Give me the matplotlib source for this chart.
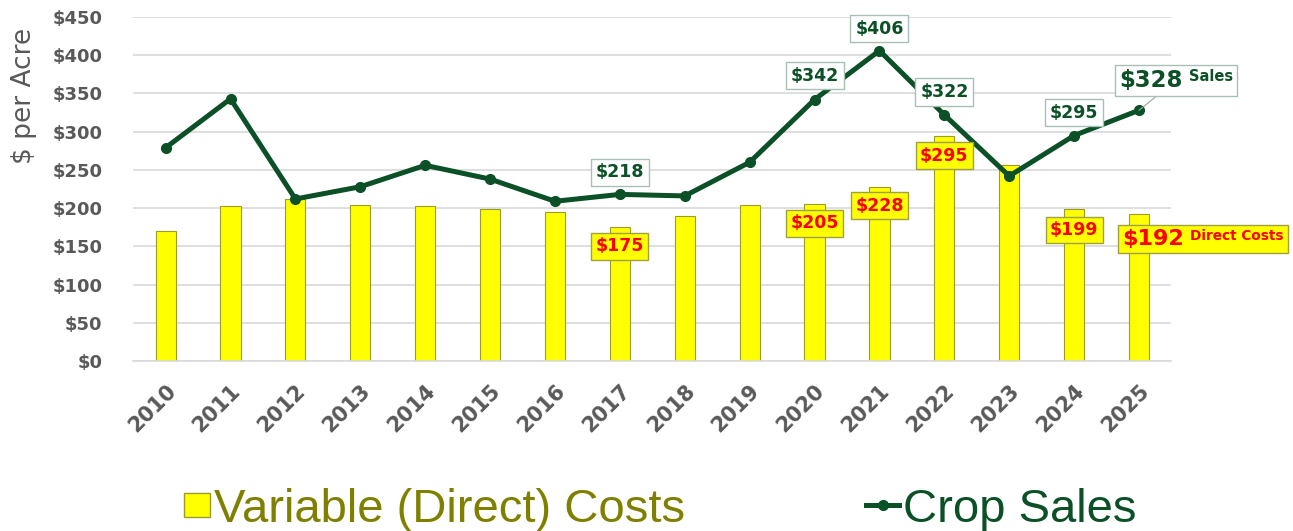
import matplotlib
matplotlib.use("Agg")
import matplotlib.pyplot as plt
from matplotlib.offsetbox import AnnotationBbox, HPacker, TextArea
from matplotlib.patches import Patch
from matplotlib.lines import Line2D

years = [str(y) for y in range(2010, 2026)]
direct_costs = [170, 203, 212, 204, 203, 199, 195, 175, 190, 204, 205, 228, 295, 257, 199, 192]
crop_sales = [279, 343, 212, 228, 256, 238, 209, 218, 216, 260, 342, 406, 322, 242, 295, 328]
yticks = list(range(0, 451, 50))

# labelled points: index -> pixel offset (dx, dy) from the point
sales_labels = {7: (0, 22), 10: (0, 24), 11: (0, 22), 12: (0, 23), 14: (0, 23)}
cost_labels = {7: (0, -19), 10: (0, -19), 11: (0, -19), 12: (0, -20), 14: (0, -21)}

GRAY = "#595959"
GREEN = "#0B5027"
OLIVE = "#808000"
YELLOW = "#FFFF00"
RED = "#FF0000"
LEGFONT = "Liberation Sans"

DPI = 100
fig = plt.figure(figsize=(12.93, 5.31), dpi=DPI)
ax = fig.add_axes([0.103, 0.32, 0.803, 0.648])

def px(v):
    return v * 72 / DPI

x = list(range(len(years)))
ax.bar(x, direct_costs, width=0.31, color=YELLOW, edgecolor="#9C9C2A", linewidth=0.8, zorder=2)
ax.plot(x, crop_sales, color=GREEN, linewidth=3.6, marker="o", markersize=7, zorder=4)

ax.set_xlim(-0.5, len(years) - 0.5)
ax.set_ylim(0, 450)
ax.set_yticks(yticks)
ax.set_yticklabels([f"${v}" for v in yticks], fontsize=13, fontweight="bold", color=GRAY)
ax.set_xticks(x)
ax.set_xticklabels(years, rotation=45, ha="right", rotation_mode="anchor", fontsize=15,
                   fontweight="bold", color=GRAY)
ax.tick_params(axis="both", length=0)
ax.tick_params(axis="y", pad=22)
ax.tick_params(axis="x", pad=14)
ax.grid(axis="y", color="#D9D9D9", linewidth=1.2, zorder=0)
for s in ["top", "right", "left"]:
    ax.spines[s].set_visible(False)
ax.spines["bottom"].set_color("#D9D9D9")
ax.spines["bottom"].set_linewidth(1.2)
ax.set_ylabel("$ per Acre", fontsize=19, color=GRAY)
ax.yaxis.set_label_coords(-0.093, 0.77)

for i, (dx, dy) in sales_labels.items():
    ax.annotate(f"${crop_sales[i]}", (i, crop_sales[i]), xytext=(px(dx), px(dy)),
                textcoords="offset points", ha="center", va="center", fontsize=12.5,
                fontweight="bold", color=GREEN, zorder=6,
                bbox=dict(boxstyle="square,pad=0.28", fc="white", ec="#A9BFB3", lw=1))
for i, (dx, dy) in cost_labels.items():
    ax.annotate(f"${direct_costs[i]}", (i, direct_costs[i]), xytext=(px(dx), px(dy)),
                textcoords="offset points", ha="center", va="center", fontsize=12.5,
                fontweight="bold", color=RED, zorder=6,
                bbox=dict(boxstyle="square,pad=0.25", fc=YELLOW, ec="#A0A040", lw=1))

# last-point labels with series name
i = len(years) - 1
sales_box = HPacker(children=[
    TextArea(f"${crop_sales[i]}", textprops=dict(fontsize=16.5, fontweight="bold", color=GREEN)),
    TextArea("Sales", textprops=dict(fontsize=10.5, fontweight="bold", color=GREEN)),
], align="top", pad=0, sep=px(7))
ab = AnnotationBbox(sales_box, (i, crop_sales[i]), xybox=(px(37), px(30)),
                    boxcoords="offset points", box_alignment=(0.5, 0.5), pad=0.3,
                    bboxprops=dict(boxstyle="square", fc="white", ec="#A9BFB3", lw=1),
                    arrowprops=dict(arrowstyle="-", color="#A0A0A0", lw=0.8, shrinkA=0, shrinkB=0),
                    annotation_clip=False, zorder=7)
ax.add_artist(ab)
cost_box = HPacker(children=[
    TextArea(f"${direct_costs[i]}", textprops=dict(fontsize=16, fontweight="bold", color=RED)),
    TextArea("Direct Costs", textprops=dict(fontsize=9.8, fontweight="bold", color=RED)),
], align="top", pad=0, sep=px(6))
ab2 = AnnotationBbox(cost_box, (i, direct_costs[i]), xybox=(px(64), px(-25)),
                     boxcoords="offset points", box_alignment=(0.5, 0.5), pad=0.35,
                     bboxprops=dict(boxstyle="square", fc=YELLOW, ec="#A0A040", lw=1),
                     annotation_clip=False, zorder=7)
ax.add_artist(ab2)

# legend (two entries placed like the reference)
bar_handle = Patch(facecolor=YELLOW, edgecolor="#9C9C2A", linewidth=1)
line_handle = Line2D([], [], color=GREEN, linewidth=3.6, marker="o", markersize=7)
leg1 = fig.legend([bar_handle], ["Variable (Direct) Costs"], loc="center left",
                  bbox_to_anchor=(184 / 1293, 1 - 510 / 531), frameon=False,
                  prop={"family": LEGFONT, "size": 34}, handlelength=0.55, handleheight=0.4,
                  handletextpad=0.08, borderpad=0, borderaxespad=0)
leg1.get_texts()[0].set_color(OLIVE)
leg2 = fig.legend([line_handle], ["Crop Sales"], loc="center left",
                  bbox_to_anchor=(866 / 1293, 1 - 510 / 531), frameon=False,
                  prop={"family": LEGFONT, "size": 34}, handlelength=0.7,
                  handletextpad=0.08, borderpad=0, borderaxespad=0)
leg2.get_texts()[0].set_color(GREEN)

fig.savefig("out.png", dpi=DPI)
